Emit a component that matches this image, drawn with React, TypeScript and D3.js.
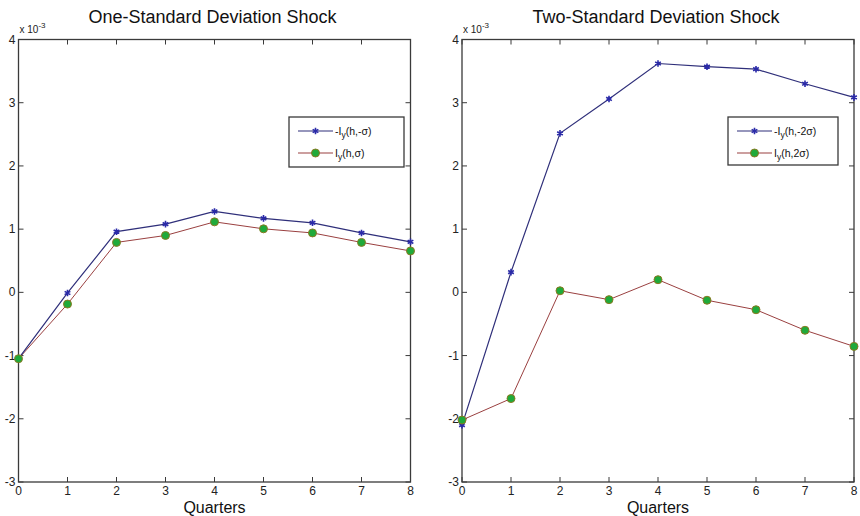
import React, { useRef, useEffect } from 'react';
import * as d3 from 'd3';

// quarters after the shock
const quarters = [0, 1, 2, 3, 4, 5, 6, 7, 8];
const yTicks = [-3, -2, -1, 0, 1, 2, 3, 4];

// responses, in units of 1e-3
const oneSdNeg = [-1.05, -0.01, 0.96, 1.08, 1.28, 1.17, 1.1, 0.94, 0.8];
const oneSdPos = [-1.05, -0.185, 0.79, 0.9, 1.115, 1.005, 0.94, 0.79, 0.655];
const twoSdNeg = [-2.1, 0.32, 2.515, 3.06, 3.62, 3.57, 3.53, 3.3, 3.085];
const twoSdPos = [-2.02, -1.68, 0.025, -0.115, 0.2, -0.125, -0.275, -0.6, -0.855];

const panels = [
  { title: 'One-Standard Deviation Shock', neg: oneSdNeg, pos: oneSdPos, negLab: '(h,-σ)', posLab: '(h,σ)', left: 18.5, legend: { x: 289, y: 117, w: 115, h: 50 } },
  { title: 'Two-Standard Deviation Shock', neg: twoSdNeg, pos: twoSdPos, negLab: '(h,-2σ)', posLab: '(h,2σ)', left: 462, legend: { x: 728, y: 117, w: 110, h: 48 } },
];

const W = 860;
const H = 516;
const plotW = 392;
const top = 39.5;
const bottom = 482;
const axisColor = '#3a3a3a';
const blueLine = '#2f2f7a';
const blueMark = '#2a2aa8';
const redLine = '#9a4040';
const greenFill = '#1faa3a';
const greenEdge = '#8a7a22';
const font = 'Arial, "Liberation Sans", Helvetica, sans-serif';

const App = () => {
  const svgRef = useRef<SVGSVGElement>(null);

  useEffect(() => {
    const svg = d3.select(svgRef.current);
    svg.selectAll('*').remove();

    svg.append('rect').attr('width', W).attr('height', H).attr('fill', '#fff');

    panels.forEach((p) => {
      const x = d3.scaleLinear().domain([0, 8]).range([p.left, p.left + plotW]);
      const y = d3.scaleLinear().domain([-3, 4]).range([bottom, top]);
      const g = svg.append('g');

      // ticks on all four sides, pointing in
      const tl = 5;
      quarters.forEach((q) => {
        g.append('line').attr('x1', x(q)).attr('x2', x(q)).attr('y1', bottom).attr('y2', bottom - tl).attr('stroke', axisColor);
        g.append('line').attr('x1', x(q)).attr('x2', x(q)).attr('y1', top).attr('y2', top + tl).attr('stroke', axisColor);
        g.append('text').attr('x', x(q)).attr('y', bottom + 13).attr('text-anchor', 'middle')
          .attr('font-family', font).attr('font-size', 12).attr('fill', '#222').text(q);
      });
      yTicks.forEach((t) => {
        g.append('line').attr('x1', p.left).attr('x2', p.left + tl).attr('y1', y(t)).attr('y2', y(t)).attr('stroke', axisColor);
        g.append('line').attr('x1', p.left + plotW).attr('x2', p.left + plotW - tl).attr('y1', y(t)).attr('y2', y(t)).attr('stroke', axisColor);
        g.append('text').attr('x', p.left - 3).attr('y', y(t) + 4).attr('text-anchor', 'end')
          .attr('font-family', font).attr('font-size', 12).attr('fill', '#222').text(t);
      });

      g.append('rect').attr('x', p.left).attr('y', top).attr('width', plotW).attr('height', bottom - top)
        .attr('fill', 'none').attr('stroke', axisColor).attr('stroke-width', 1.3);

      // exponent label
      const ex = g.append('text').attr('x', p.left + 1).attr('y', top - 7)
        .attr('font-family', font).attr('font-size', 10).attr('fill', '#222');
      ex.append('tspan').text('x 10');
      ex.append('tspan').attr('dy', -5).attr('font-size', 8).text('-3');

      g.append('text').attr('x', p.left + plotW / 2 - 2).attr('y', 23).attr('text-anchor', 'middle')
        .attr('font-family', font).attr('font-size', 18).attr('fill', '#111').text(p.title);

      g.append('text').attr('x', p.left + plotW / 2).attr('y', bottom + 31).attr('text-anchor', 'middle')
        .attr('font-family', font).attr('font-size', 16).attr('fill', '#111').text('Quarters');

      const line = d3.line<number>().x((_, i) => x(quarters[i])).y((d) => y(d));

      g.append('path').attr('d', line(p.pos)).attr('fill', 'none').attr('stroke', redLine).attr('stroke-width', 1);
      g.append('path').attr('d', line(p.neg)).attr('fill', 'none').attr('stroke', blueLine).attr('stroke-width', 1.2);

      const star = d3.symbol().type(d3.symbolAsterisk).size(30);
      p.neg.forEach((d, i) => {
        g.append('path').attr('d', star()).attr('transform', `translate(${x(quarters[i])},${y(d)})`)
          .attr('fill', 'none').attr('stroke', blueMark).attr('stroke-width', 1.6);
      });
      p.pos.forEach((d, i) => {
        g.append('circle').attr('cx', x(quarters[i])).attr('cy', y(d)).attr('r', 4)
          .attr('fill', greenFill).attr('stroke', greenEdge).attr('stroke-width', 1);
      });

      // legend
      const L = p.legend;
      const lg = g.append('g');
      lg.append('rect').attr('x', L.x).attr('y', L.y).attr('width', L.w).attr('height', L.h)
        .attr('fill', '#fff').attr('stroke', axisColor).attr('stroke-width', 1.3);
      const rows = [
        { y: L.y + 14, lab: p.negLab, prefix: '-I', kind: 'star' },
        { y: L.y + 36, lab: p.posLab, prefix: 'I', kind: 'circle' },
      ];
      rows.forEach((r) => {
        const x0 = L.x + 9;
        const x1 = L.x + 44;
        lg.append('line').attr('x1', x0).attr('x2', x1).attr('y1', r.y).attr('y2', r.y)
          .attr('stroke', r.kind === 'star' ? blueLine : redLine).attr('stroke-width', 1.2);
        if (r.kind === 'star') {
          lg.append('path').attr('d', star()).attr('transform', `translate(${(x0 + x1) / 2},${r.y})`)
            .attr('fill', 'none').attr('stroke', blueMark).attr('stroke-width', 1.6);
        } else {
          lg.append('circle').attr('cx', (x0 + x1) / 2).attr('cy', r.y).attr('r', 4)
            .attr('fill', greenFill).attr('stroke', greenEdge);
        }
        const t = lg.append('text').attr('x', x1 + 2).attr('y', r.y + 3.5)
          .attr('font-family', font).attr('font-size', 10.5).attr('fill', '#111');
        t.append('tspan').text(r.prefix);
        t.append('tspan').attr('dy', 3.5).attr('font-size', 8.5).text('y');
        t.append('tspan').attr('dy', -3.5).text(r.lab);
      });
    });
  }, []);

  return (
    <svg ref={svgRef} width={W} height={H} style={{ position: 'absolute', left: 0, top: 0, display: 'block' }}></svg>
  );
};

export default App;
